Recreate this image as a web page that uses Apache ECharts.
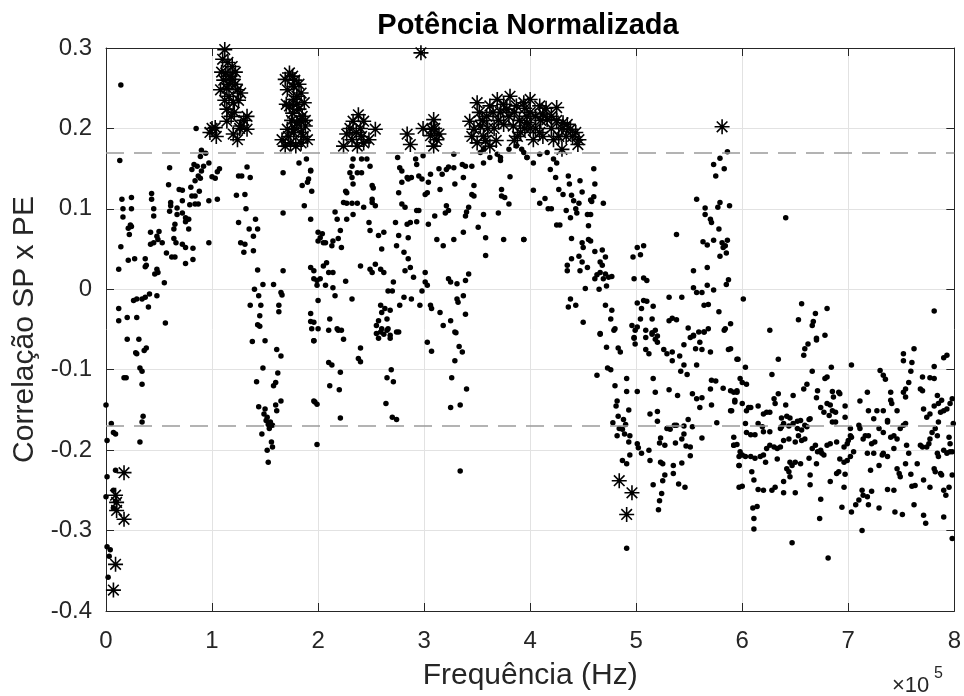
<!DOCTYPE html>
<html>
<head>
<meta charset="utf-8">
<script src="https://cdn.jsdelivr.net/npm/echarts@6/dist/echarts.min.js"></script>
<style>
  html, body { margin: 0; padding: 0; background: #fff; }
  #chart { width: 964px; height: 696px; }
</style>
</head>
<body>
<div id="chart"></div>
<script>
// frequência em unidades de 1e5 Hz, correlação SP x PE
const xTicks = [0, 1, 2, 3, 4, 5, 6, 7, 8];
const yTicks = [-0.4, -0.3, -0.2, -0.1, 0, 0.1, 0.2, 0.3];
const limiares = [0.175, -0.175];

// pontos abaixo do limiar (marcador ".")
const dotsA = [
  [0.14,0.254],[0.13,0.160],[0.85,0.200],
  [0.15,0.112],[0.24,0.114],[0.16,0.10],[0.24,0.10],[0.16,0.09],[0.23,0.080],[0.21,0.076],[0.24,0.078],[0.22,0.068],
  [0.43,0.119],[0.43,0.112],[0.45,0.10],[0.45,0.091],
  [0.42,0.071],[0.50,0.072],[0.48,0.066],[0.49,0.062],[0.45,0.058],[0.42,0.056],[0.53,0.058],
  [0.14,0.053],[0.12,0.025],[0.21,0.036],[0.27,0.038],[0.37,0.038],[0.38,0.03],[0.37,0.028],[0.48,0.025],[0.49,0.021],[0.46,0.019],[0.55,0.008],
  [0.57,0.045],[0.62,0.040],[0.65,0.040],[0.72,0.056],[0.75,0.052],[0.82,0.051],[0.82,0.037],[0.75,0.032],
  [0.59,0.13],[0.60,0.151],[0.61,0.108],[0.61,0.104],[0.60,0.097],
  [0.65,0.081],[0.64,0.075],[0.64,0.063],[0.66,0.058],
  [0.69,0.124],[0.72,0.123],[0.72,0.11],[0.72,0.095],[0.75,0.089],[0.75,0.084],[0.78,0.087],[0.78,0.075],
  [0.67,0.093],[0.67,0.101],[0.79,0.105],[0.84,0.106],[0.87,0.106],
  [0.80,0.127],[0.84,0.135],[0.87,0.141],[0.81,0.149],[0.83,0.155],[0.86,0.153],
  [0.89,0.165],[0.90,0.173],[0.94,0.169],[0.97,0.157],[0.90,0.147],[0.89,0.138],
  [0.97,0.11],[1.05,0.112],[1.0,0.14],[1.05,0.146],[1.03,0.138],[1.07,0.15],[0.97,0.058],[0.92,0.153],[0.88,0.122],[0.81,0.116],[0.84,0.116],
  [0.12,-0.024],[0.12,-0.039],[0.20,-0.035],[0.29,-0.035],[0.26,-0.014],[0.29,-0.012],[0.34,-0.012],[0.37,-0.01],[0.41,-0.006],[0.48,-0.008],[0.40,-0.022],[0.56,-0.042],[0.20,-0.062],[0.31,-0.062],
  [0.29,-0.08],[0.28,-0.079],[0.38,-0.073],[0.36,-0.076],[0.17,-0.11],[0.19,-0.11],[0.32,-0.098],[0.34,-0.102],[0.34,-0.118],[0.0,-0.144],[0.05,-0.167],[0.09,-0.18],[0.07,-0.178],[0.01,-0.188],[0.34,-0.165],[0.35,-0.158],[0.32,-0.19],
  [0.01,-0.233],[0.09,-0.225],[0.07,-0.25],[0.0,-0.258],[0.09,-0.264],[0.07,-0.272],[0.01,-0.32],[0.04,-0.324],[0.03,-0.332],[0.02,-0.358]
];

const dotsB = [
  [1.33,0.152],[1.25,0.141],[1.28,0.141],[1.36,0.139],[1.23,0.117],[1.31,0.118],[1.32,0.1],[1.25,0.083],[1.35,0.075],[1.41,0.087],[1.43,0.075],[1.39,0.066],[1.27,0.058],[1.31,0.056],[1.30,0.046],[1.39,0.048],[1.43,0.024],
  [1.40,0.0],[1.48,0.006],[1.44,-0.008],[1.46,-0.02],[1.36,-0.02],[1.45,-0.033],[1.43,-0.044],[1.45,-0.046],[1.58,0.006],[1.65,-0.004],[1.66,-0.007],[1.63,-0.02],[1.63,-0.028],
  [1.67,0.145],[1.67,0.095],[1.67,0.023],[1.82,0.157],[1.89,0.162],[1.93,0.148],[1.91,0.137],[1.90,0.133],[1.85,0.129],[1.87,0.104],[1.93,0.087],[2.0,0.06],[1.96,0.023],[1.99,0.011],[2.0,-0.014],[1.93,-0.03],[1.93,-0.04],
  [1.38,-0.065],[1.5,-0.064],[1.61,-0.075],[1.65,-0.083],[1.48,-0.098],[1.42,-0.115],[1.62,-0.104],[1.6,-0.116],[1.58,-0.12],
  [1.44,-0.146],[1.50,-0.149],[1.49,-0.155],[1.52,-0.159],[1.55,-0.165],[1.57,-0.169],[1.54,-0.173],[1.61,-0.151],[1.65,-0.139],[1.60,-0.144],[1.47,-0.18],[1.56,-0.19],[1.57,-0.196],[1.52,-0.2],[1.53,-0.215],[1.51,-0.163],[1.53,-0.168],
  [1.96,-0.064],[2.0,-0.049],[1.96,-0.139],[1.99,-0.143],[1.99,-0.193]
];

const dotsC = [
  [1.93,0.147],[1.94,0.122],[1.93,0.027],[1.96,0.013],[1.96,-0.041],[1.94,-0.049],
  [2.0,0.071],[2.04,0.069],[2.02,0.064],[2.05,0.058],[2.07,0.058],
  [2.16,0.096],[2.18,0.087],[2.21,0.073],[2.19,0.063],[2.22,0.052],[2.14,0.060],[2.13,0.054],
  [2.24,0.108],[2.27,0.107],[2.32,0.107],[2.37,0.107],[2.43,0.102],[2.51,0.108],
  [2.27,0.12],[2.26,0.122],[2.33,0.131],[2.32,0.139],[2.30,0.145],[2.37,0.145],
  [2.32,0.153],[2.33,0.162],[2.41,0.162],[2.46,0.162],[2.49,0.153],[2.41,0.145],
  [2.51,0.129],[2.52,0.126],[2.51,0.112],[2.54,0.104],
  [2.27,0.087],[2.33,0.093],[2.48,0.083],[2.49,0.073],[2.57,0.067],[2.62,0.071],[2.60,0.05],
  [2.05,0.029],[2.08,0.033],[2.10,0.021],[2.14,0.021],[2.02,0.013],[1.99,0.005],[2.07,0.005],[2.14,0.002],[2.16,-0.008],
  [2.40,0.029],[2.49,0.025],[2.51,0.021],[2.54,0.031],[2.59,0.025],[2.62,0.021],
  [2.26,0.010],[2.32,-0.012],[2.66,-0.002],[2.71,0.009],[2.70,-0.002],
  [2.59,-0.02],[2.60,-0.029],[2.63,-0.024],[2.68,-0.026],[2.65,-0.037],[2.57,-0.039],[2.55,-0.045],[2.60,-0.049],[2.66,-0.049],[2.55,-0.055],[2.59,-0.053],[2.68,-0.057],[2.76,-0.053],
  [2.11,-0.037],[2.18,-0.049],[2.22,-0.051],[2.24,-0.062],
  [2.73,0.083],[2.76,0.067],[2.74,0.054],[2.84,0.081],[2.87,0.083],[2.93,0.084],[2.93,0.098],[2.85,0.064],[2.81,0.046],[2.85,0.038],[2.87,0.027],[2.82,0.023],[2.90,0.015],[2.88,-0.012],[2.81,-0.01],[2.77,-0.02],
  [2.75,0.164],[2.77,0.151],[2.79,0.147],[2.79,0.133],[2.84,0.139],[2.85,0.137],[2.88,0.139],[2.92,0.162],[2.93,0.155],[2.95,0.141],[2.98,0.137],[2.99,0.166],[2.95,0.098],[2.76,0.12],[2.79,0.106],[2.82,0.102],
  [1.96,-0.064],[2.10,-0.051],[2.19,-0.051],
  [2.10,-0.091],[2.13,-0.094],[2.21,-0.103],[2.11,-0.12],[2.20,-0.125],[1.97,-0.14],[2.21,-0.16],
  [2.4,-0.073],[2.38,-0.086],[2.4,-0.09],
  [2.57,-0.061],[2.62,-0.056],[2.65,-0.051],[2.68,-0.061],[2.74,-0.053],
  [2.69,-0.1],[2.65,-0.11],[2.71,-0.115],[2.64,-0.142],[2.70,-0.159],[2.74,-0.162]
];

const dotsD = [
  [3.03,0.120],[3.01,0.118],[3.06,0.143],[3.04,0.133],[3.14,0.150],[3.17,0.143],[3.15,0.124],[3.21,0.149],[3.23,0.152],[3.28,0.168],[3.28,0.151],[3.29,0.131],[3.36,0.155],[3.37,0.139],[3.39,0.153],
  [3.10,0.091],[3.04,0.081],[3.12,0.062],[3.18,0.054],[3.20,0.095],[3.21,0.104],[3.23,0.098],[3.28,0.062],[3.37,0.071],[3.39,0.091],[3.42,0.102],[3.40,0.096],
  [3.01,0.021],[3.01,0.009],[3.03,0.005],[2.98,-0.002],[2.96,-0.02],[3.06,-0.02],[3.07,-0.024],[3.15,-0.029],[3.18,-0.045],[3.25,-0.039],[3.23,0.013],[3.25,0.009],[3.31,0.007],[3.32,-0.016],[3.31,-0.012],[3.39,0.011],[3.37,-0.008],[3.39,-0.031],[3.42,0.019],[3.29,-0.053],
  [3.45,0.153],[3.47,0.129],[3.45,0.118],[3.47,0.116],[3.51,0.077],[3.56,0.093],[3.58,0.064],[3.58,0.042],[3.70,0.095],[3.73,0.124],[3.73,0.116],[3.76,0.114],[3.80,0.106],[3.75,0.062],[3.81,0.14],[3.94,0.062],
  [3.53,0.170],[3.56,0.174],[3.56,0.157],[3.62,0.164],[3.69,0.168],[3.72,0.164],[3.72,0.160],[3.80,0.174],[3.87,0.178],[3.94,0.170],[3.97,0.164],
  [3.03,-0.066],[3.07,-0.077],[3.30,-0.054],[3.33,-0.071],[3.36,-0.078],[3.29,-0.089],[3.26,-0.11],[3.40,-0.124],[3.25,-0.147],[3.34,-0.144],[3.34,-0.226]
];

const dotsE = [
  [3.92,0.174],[3.97,0.164],[4.03,0.157],[4.09,0.168],[4.16,0.170],[4.22,0.162],[4.25,0.157],
  [4.03,0.123],[4.19,0.149],[4.24,0.139],[4.36,0.141],[4.37,0.131],[4.47,0.135],[4.6,0.15],[4.61,0.131],[4.6,0.115],[4.58,0.109],[4.69,0.107],
  [4.14,0.113],[4.09,0.107],[4.17,0.1],[4.2,0.1],[4.27,0.124],[4.31,0.118],[4.39,0.117],[4.41,0.11],[4.46,0.107],[4.49,0.121],[4.57,0.111],[4.34,0.098],[4.43,0.1],[4.44,0.095],[4.38,0.089],[4.54,0.093],[4.57,0.093],[4.25,0.08],[4.28,0.08],[4.55,0.079],
  [3.94,0.062],
  [4.39,0.063],[4.49,0.058],[4.5,0.052],[4.55,0.062],[4.57,0.06],[4.61,0.047],[4.68,0.049],[4.71,0.04],[4.66,0.034],[4.68,0.03],
  [4.35,0.03],[4.35,0.023],[4.39,0.038],[4.46,0.041],[4.49,0.034],[4.47,0.023],[4.54,0.027],[4.63,0.018],[4.61,0.013],[4.66,0.021],[4.71,0.019],[4.74,0.015],[4.77,0.016],[4.69,0.013],[4.72,0.004],[4.65,0.0],[4.52,0.001],
  [4.38,-0.012],[4.36,-0.022],[4.43,-0.02],[4.5,-0.041],[4.71,-0.02],[4.77,-0.026],[4.76,-0.037],[4.66,-0.055],[4.8,-0.049],
  [5.01,0.052],[5.07,0.054],[5.04,0.043],[4.97,0.04],[4.98,0.013],[5.07,0.014],[5.1,0.011],
  [5.01,-0.017],[5.07,-0.014],[5.1,-0.015],[5.16,-0.021],[5.05,-0.024],[5.15,-0.037],[5.04,-0.037],[4.96,-0.045],[5.01,-0.047],[4.99,-0.051],[5.09,-0.051],[5.18,-0.051],[5.15,-0.054],[4.98,-0.06],[5.09,-0.06],[5.2,-0.058],[5.31,-0.039],[5.34,-0.036],[5.38,-0.038],[5.31,-0.01],[5.43,-0.01],
  [5.38,0.068]
];

const dotsF = [
  [5.54,0.023],[5.57,-0.004],[5.54,0.002],[5.62,-0.004],[5.67,0.027],[5.67,0.005],[5.73,-0.001],[5.64,-0.02],[5.68,-0.019],[5.78,-0.028],[5.84,-0.049],[5.89,-0.043],[5.87,0.012],[5.85,0.006],[5.49,-0.048],[5.54,-0.057],[5.59,-0.053],[5.64,-0.053],[5.68,-0.049],
  [5.57,0.112],[5.65,0.101],[5.65,0.093],[5.7,0.087],[5.71,0.083],[5.77,0.102],[5.79,0.108],[5.88,0.104],
  [5.73,0.155],[5.79,0.163],[5.75,0.141],[5.83,0.15],[5.86,0.171],
  [5.63,0.059],[5.67,0.055],[5.73,0.061],[5.78,0.075],[5.81,0.058],[5.82,0.052],[5.84,0.054],[5.86,0.061],[5.85,0.045],[5.79,0.041],
  [4.66,-0.056],[4.72,-0.072],[4.83,-0.073],[4.85,-0.078],[4.79,-0.051],[4.98,-0.061],[4.99,-0.068],[5.09,-0.075],[5.12,-0.08],[5.15,-0.056],[5.18,-0.062],[5.20,-0.066],[5.26,-0.075],[5.29,-0.08],[5.34,-0.078],[5.34,-0.089],[5.41,-0.083],[5.45,-0.069],[5.45,-0.094],[5.42,-0.102],[5.48,-0.106],[5.51,-0.06],[5.54,-0.058],[5.56,-0.074],[5.6,-0.066],[5.62,-0.075],[5.64,-0.053],[5.7,-0.078],[5.57,-0.094],[5.83,-0.051],[5.87,-0.075],[5.95,-0.087],
  [4.63,-0.107],[4.73,-0.098],[4.76,-0.1],[4.8,-0.12],[4.91,-0.111],[4.91,-0.127],[5.01,-0.127],[5.16,-0.111],[5.18,-0.128],[5.31,-0.125],[5.39,-0.132],[5.53,-0.13],[5.57,-0.136],[5.62,-0.135],[5.6,-0.147],[5.71,-0.113],[5.75,-0.114],[5.7,-0.124],[5.82,-0.123],[5.71,-0.144],[5.89,-0.151],[5.92,-0.128],[5.95,-0.126],[5.93,-0.14],
  [4.82,-0.139],[4.81,-0.145],[4.83,-0.158],[4.88,-0.162],[4.93,-0.15],[4.78,-0.166],[4.84,-0.173],[4.87,-0.174],[4.9,-0.168],[4.82,-0.182],[4.89,-0.18],[4.94,-0.182],[4.93,-0.19],[5.01,-0.192],[5.02,-0.197],[5.05,-0.204],[5.12,-0.2],[5.13,-0.155],[5.2,-0.152],[5.2,-0.164],[5.29,-0.173],[5.36,-0.169],[5.32,-0.174],[5.38,-0.169],[5.45,-0.17],[5.49,-0.162],[5.53,-0.171],[5.45,-0.18],[5.43,-0.186],[5.37,-0.191],[5.23,-0.185],[5.22,-0.191],[5.27,-0.194],[5.47,-0.195],[5.51,-0.196],[5.62,-0.185],[5.76,-0.166],[5.92,-0.184],[5.92,-0.194],
  [4.87,-0.213],[4.91,-0.217],[4.94,-0.206],[5.13,-0.213],[5.23,-0.215],[5.25,-0.217],[5.35,-0.219],[5.43,-0.216],[5.51,-0.207],[5.27,-0.231],[5.35,-0.229],[5.25,-0.238],[5.4,-0.242],[5.46,-0.246],[5.16,-0.243],[5.24,-0.254],[5.22,-0.263],[5.21,-0.274],
  [4.91,-0.322],[5.97,-0.246],[5.97,-0.219],[5.97,-0.208]
];

const dotsG = [
  [6.41,0.089],[6.01,-0.012],[6.26,-0.051],[6.56,-0.018],[6.69,-0.03],[6.8,-0.024],[6.53,-0.038],[6.67,-0.04],[6.66,-0.045],[6.78,-0.057],[6.7,-0.061],
  [6.58,-0.082],[6.59,-0.074],[6.62,-0.068],[6.70,-0.063],
  [5.96,-0.087],[6.03,-0.097],[6.34,-0.087],[6.28,-0.106],
  [5.89,-0.074],[5.98,-0.111],[6.0,-0.116],[6.04,-0.118],[5.89,-0.126],[5.95,-0.128],[5.93,-0.138],[5.90,-0.151],[6.0,-0.142],[6.04,-0.151],[6.06,-0.147],
  [6.66,-0.102],[6.80,-0.109],[6.78,-0.111],[6.84,-0.097],[7.03,-0.094],[6.91,-0.128],[6.85,-0.127],[6.86,-0.134],[6.92,-0.13],[6.97,-0.145],[6.97,-0.159],[6.71,-0.126],[6.70,-0.135],[6.58,-0.124],[6.61,-0.118],
  [6.30,-0.136],[6.31,-0.142],[6.34,-0.13],[6.41,-0.144],[6.48,-0.132],[6.08,-0.147],[6.15,-0.145],[6.2,-0.155],[6.23,-0.153],[6.26,-0.153],[6.37,-0.16],[6.42,-0.158],[6.45,-0.16],[6.52,-0.164],[6.55,-0.163],[6.64,-0.161],[6.63,-0.162],[6.59,-0.169],[6.74,-0.147],[6.77,-0.153],[6.8,-0.142],[6.83,-0.144],[6.85,-0.151],[6.88,-0.153],[6.82,-0.157],[6.85,-0.165],[6.88,-0.165],
  [6.03,-0.167],[6.04,-0.178],[6.08,-0.181],[6.12,-0.181],[6.15,-0.167],[6.19,-0.171],[6.2,-0.177],[6.26,-0.177],[6.36,-0.173],[6.37,-0.171],[6.39,-0.167],[6.44,-0.17],[6.48,-0.167],[6.52,-0.173],[6.56,-0.175],[6.61,-0.171],[6.53,-0.182],[6.5,-0.19],[6.56,-0.188],[6.59,-0.186],
  [5.92,-0.194],[5.95,-0.193],[5.98,-0.202],[6.0,-0.206],[6.03,-0.208],[5.97,-0.219],[6.08,-0.208],[6.12,-0.21],[6.17,-0.208],[6.2,-0.206],[6.22,-0.215],[6.23,-0.198],[6.26,-0.194],[6.3,-0.196],[6.33,-0.198],[6.36,-0.196],[6.33,-0.211],[6.39,-0.188],[6.44,-0.186],[6.45,-0.215],[6.47,-0.219],[6.5,-0.215],[6.55,-0.217],[6.42,-0.223],[6.44,-0.227],[6.45,-0.233],[6.63,-0.21],[6.66,-0.198],[6.69,-0.194],[6.71,-0.202],[6.74,-0.2],[6.75,-0.204],[6.77,-0.206],[6.7,-0.217],[6.8,-0.194],[6.83,-0.192],[6.89,-0.19],[6.96,-0.196],[6.99,-0.192],
  [7.0,-0.188],[7.02,-0.182],[7.03,-0.184],[7.02,-0.173],[7.1,-0.169],[7.11,-0.173],[7.05,-0.202],[7.02,-0.208],[6.99,-0.213],[6.96,-0.215],[6.92,-0.211],[6.97,-0.23],[6.91,-0.227],[6.89,-0.229],[6.83,-0.239],[6.96,-0.246],
  [6.09,-0.227],[6.11,-0.237],[6.0,-0.245],[6.15,-0.249],[6.2,-0.25],[6.28,-0.25],[6.31,-0.246],[6.39,-0.239],[6.39,-0.253],[6.5,-0.253],[6.64,-0.231],[6.64,-0.243],
  [6.1,-0.272],[6.14,-0.27],[6.11,-0.285],[6.11,-0.298],[6.47,-0.315],[6.74,-0.261],[6.73,-0.285],[6.94,-0.271],[6.81,-0.334]
];

const dotsH = [
  [7.81,-0.027],
  [7.03,-0.277],[7.07,-0.268],[7.1,-0.262],[7.13,-0.25],[7.14,-0.256],[7.18,-0.258],[7.19,-0.268],[7.22,-0.251],[7.13,-0.3],[7.29,-0.272],[7.37,-0.249],[7.43,-0.25],[7.44,-0.277],[7.51,-0.28],[7.62,-0.268],
  [7.11,-0.139],[7.18,-0.128],[7.19,-0.151],[7.24,-0.161],[7.27,-0.151],[7.33,-0.151],[7.37,-0.163],[7.4,-0.128],[7.4,-0.138],[7.41,-0.142],[7.46,-0.151],[7.52,-0.128],[7.54,-0.124],[7.54,-0.134],[7.57,-0.116],[7.59,-0.102],[7.52,-0.089],[7.52,-0.08],[7.6,-0.091],[7.62,-0.074],[7.3,-0.101],[7.33,-0.107],[7.35,-0.112],
  [7.16,-0.182],[7.14,-0.186],[7.19,-0.182],[7.22,-0.192],[7.25,-0.19],[7.29,-0.173],[7.33,-0.178],[7.37,-0.165],[7.4,-0.184],[7.43,-0.182],[7.46,-0.186],[7.49,-0.173],[7.52,-0.169],[7.54,-0.167],[7.55,-0.194],[7.57,-0.204],
  [7.18,-0.204],[7.21,-0.225],[7.24,-0.204],[7.29,-0.219],[7.32,-0.206],[7.33,-0.204],[7.37,-0.208],[7.43,-0.198],[7.46,-0.223],[7.48,-0.229],[7.49,-0.233],[7.54,-0.217],[7.59,-0.23],[7.6,-0.245],[7.63,-0.244],[7.65,-0.217],[7.71,-0.237],
  [7.68,-0.194],[7.7,-0.196],[7.74,-0.196],[7.76,-0.192],[7.77,-0.186],[7.79,-0.178],[7.82,-0.173],[7.84,-0.182],[7.85,-0.165],[7.87,-0.153],[7.9,-0.151],[7.93,-0.149],[7.96,-0.142],[7.98,-0.136],[7.99,-0.167],[7.95,-0.184],[7.96,-0.192],[7.93,-0.204],[7.9,-0.2],[7.85,-0.208],[7.84,-0.204],[7.81,-0.223],[7.87,-0.229],[7.82,-0.227],[7.88,-0.231],[7.9,-0.25],[7.92,-0.256],[7.95,-0.246],[7.98,-0.231],[7.96,-0.202],[7.98,-0.202],
  [7.77,-0.246],[7.71,-0.281],[7.73,-0.291],[7.9,-0.283],[7.98,-0.31],
  [7.68,-0.124],[7.7,-0.126],[7.71,-0.149],[7.74,-0.159],[7.77,-0.155],[7.81,-0.145],[7.84,-0.132],[7.85,-0.142],[7.88,-0.138],[7.81,-0.111],[7.77,-0.11],[7.7,-0.109],[7.81,-0.096],[7.9,-0.085],[7.93,-0.082]
];

// pontos acima do limiar (marcador "*")
const starsA = [
  [1.12,0.298],[1.10,0.286],[1.15,0.282],[1.19,0.277],[1.13,0.269],[1.19,0.261],[1.08,0.248],[1.14,0.25],[1.24,0.248],[1.16,0.24],[1.27,0.244],[1.20,0.232],[1.14,0.224],[1.33,0.215],[1.27,0.203],
  [1.03,0.201],[0.98,0.195],[1.04,0.19],[1.20,0.193],[1.24,0.186],[1.33,0.199],[1.14,0.209],[1.11,0.26],[1.17,0.265],[1.22,0.255],[1.25,0.235],[1.09,0.27],[1.18,0.215],[1.30,0.21],[1.00,0.2],
  [1.16,0.255],[1.21,0.22],[1.26,0.2],[1.12,0.235],[1.22,0.27]
];
const starsB = [
  [1.73,0.269],[1.69,0.261],[1.76,0.265],[1.77,0.252],[1.71,0.248],[1.80,0.24],[1.84,0.244],[1.77,0.236],[1.87,0.232],[1.82,0.224],[1.76,0.219],[1.85,0.215],[1.80,0.207],[1.88,0.203],
  [1.71,0.199],[1.77,0.195],[1.84,0.195],[1.66,0.186],[1.74,0.182],[1.84,0.182],[1.90,0.186],[1.69,0.178],[1.79,0.178],[1.88,0.21],[1.73,0.228],[1.82,0.255],[1.78,0.2],
  [1.75,0.21],[1.8,0.23],[1.72,0.19],[1.86,0.19],[1.83,0.21],[1.78,0.26],[1.7,0.23]
];
const starsC = [
  [2.38,0.217],[2.33,0.209],[2.43,0.209],[2.40,0.2],[2.54,0.199],[2.27,0.193],[2.24,0.178],[2.32,0.186],[2.43,0.182],[2.37,0.178],[2.48,0.186],[2.30,0.2],[2.41,0.19],[2.36,0.195],
  [2.97,0.294],
  [2.84,0.193],[2.87,0.18],[2.99,0.2],[3.09,0.211],[3.07,0.199],[3.12,0.186],[3.09,0.178],[3.14,0.193],[3.06,0.191],[3.1,0.2]
];
const starsD = [
  [3.50,0.232],[3.43,0.209],[3.47,0.199],[3.53,0.203],[3.59,0.215],[3.62,0.228],[3.69,0.236],[3.81,0.24],[3.78,0.224],[3.87,0.228],[3.94,0.232],[3.84,0.203],[3.91,0.195],[3.97,0.215],[3.50,0.182],[3.62,0.178],[3.56,0.19],[3.66,0.2],[3.72,0.22],[3.75,0.205],[3.88,0.19],
  [4.0,0.236],[4.09,0.228],[4.25,0.226],[3.97,0.207],[4.16,0.211],[4.31,0.207],[4.38,0.199],[4.46,0.186],[4.30,0.174],[4.22,0.186],[4.03,0.186],[4.09,0.195],[3.95,0.2],[4.12,0.218],[4.2,0.2],[4.05,0.215],[4.34,0.19],[4.43,0.195],
  [3.55,0.21],[3.6,0.2],[3.65,0.22],[3.7,0.21],[3.75,0.23],[3.8,0.215],[3.85,0.22],[3.9,0.21],[3.95,0.225],[4.0,0.22],[4.05,0.2],[4.1,0.21],[4.15,0.225],[4.2,0.215],[4.25,0.21],[4.3,0.2],[4.35,0.205],[4.4,0.19],[4.45,0.18],
  [3.45,0.19],[3.52,0.22],[3.58,0.185],[3.68,0.185],[3.85,0.185],[4.0,0.2],[4.12,0.19],[4.27,0.19]
];
const starsE = [
  [4.84,-0.238],[4.96,-0.253],[4.91,-0.28],
  [5.81,0.202],
  [0.17,-0.228],[0.09,-0.256],[0.10,-0.265],[0.10,-0.275],[0.17,-0.286],[0.09,-0.342],[0.07,-0.374]
];

const dots = [].concat(dotsA, dotsB, dotsC, dotsD, dotsE, dotsF, dotsG, dotsH);
const stars = [].concat(starsA, starsB, starsC, starsD, starsE);

const FONT = "'Liberation Sans', Arial, Helvetica, sans-serif";
const AXIS = "#262626";
const starPath = "path://M0,-10L0,10M-10,0L10,0M-7.07,-7.07L7.07,7.07M-7.07,7.07L7.07,-7.07";

const chart = echarts.init(document.getElementById("chart"), null, { renderer: "canvas" });

const baseAxis = {
  type: "value",
  axisLine: { show: true, onZero: false, lineStyle: { color: AXIS, width: 1 } },
  axisTick: { show: true, inside: true, length: 8, lineStyle: { color: AXIS, width: 1 } },
  splitLine: { show: false },
  axisLabel: { show: false }
};

chart.setOption({
  animation: false,
  backgroundColor: "#fff",
  grid: { left: 106, right: 9, top: 48, bottom: 83, containLabel: false },
  xAxis: [
    Object.assign({}, baseAxis, {
      position: "bottom",
      min: xTicks[0], max: xTicks[xTicks.length - 1], interval: 1,
      splitLine: { show: true, lineStyle: { color: "#e2e2e2", width: 1 } },
      axisLabel: { show: true, color: AXIS, fontFamily: FONT, fontSize: 24, margin: 18 },
      name: "Frequência (Hz)",
      nameLocation: "middle",
      nameGap: 50,
      nameTextStyle: { color: AXIS, fontFamily: FONT, fontSize: 30 }
    }),
    Object.assign({}, baseAxis, {
      position: "top",
      min: xTicks[0], max: xTicks[xTicks.length - 1], interval: 1
    })
  ],
  yAxis: [
    Object.assign({}, baseAxis, {
      position: "left",
      min: yTicks[0], max: yTicks[yTicks.length - 1], interval: 0.1,
      splitLine: { show: true, lineStyle: { color: "#e2e2e2", width: 1 } },
      axisLabel: {
        show: true, color: AXIS, fontFamily: FONT, fontSize: 24, margin: 14,
        formatter: (v) => String(Math.round(v * 10) / 10)
      },
      name: "Correlação SP x PE",
      nameLocation: "middle",
      nameRotate: 90,
      nameGap: 64,
      nameTextStyle: { color: AXIS, fontFamily: FONT, fontSize: 30 }
    }),
    Object.assign({}, baseAxis, {
      position: "right",
      min: yTicks[0], max: yTicks[yTicks.length - 1], interval: 0.1
    })
  ],
  graphic: [
    {
      type: "text", x: 528, y: 26,
      style: { text: "Potência Normalizada", font: "bold 29px " + FONT, fill: "#000", textAlign: "center", textVerticalAlign: "middle" }
    },
    {
      type: "text", x: 892, y: 686,
      style: { text: "×10", font: "22px " + FONT, fill: AXIS, textAlign: "left", textVerticalAlign: "middle" }
    },
    {
      type: "text", x: 934, y: 674,
      style: { text: "5", font: "16px " + FONT, fill: AXIS, textAlign: "left", textVerticalAlign: "middle" }
    }
  ],
  series: [
    {
      type: "scatter",
      data: dots,
      symbol: "circle",
      symbolSize: 5.5,
      itemStyle: { color: "#000", opacity: 1 },
      markLine: {
        silent: true,
        symbol: "none",
        label: { show: false },
        lineStyle: { color: "#9a9a9a", width: 1.5, type: [18, 10] },
        data: limiares.map((v) => ({ yAxis: v }))
      }
    },
    {
      type: "scatter",
      data: stars,
      symbol: starPath,
      symbolSize: 15,
      itemStyle: { color: "rgba(0,0,0,0)", borderColor: "#000", borderWidth: 1.6, opacity: 1 }
    }
  ]
});
</script>
</body>
</html>
